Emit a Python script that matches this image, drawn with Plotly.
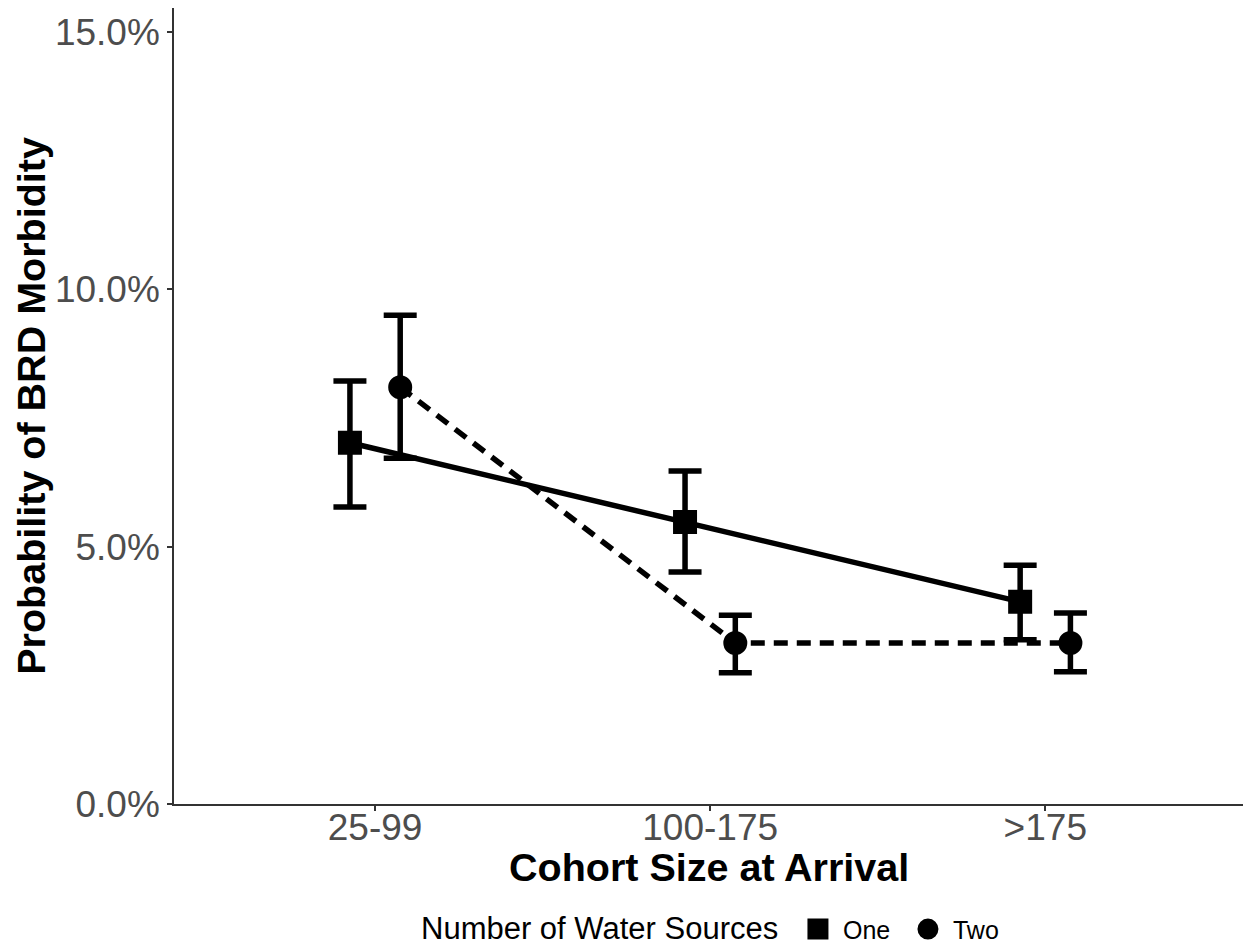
import plotly.graph_objects as go

# ---- data ----
categories = ["25-99", "100-175", ">175"]
groups = ["One", "Two"]

one_est = [7.02, 5.48, 3.93]
one_lo = [5.77, 4.51, 3.19]
one_hi = [8.22, 6.47, 4.64]

two_est = [8.10, 3.13, 3.13]
two_lo = [6.72, 2.55, 2.57]
two_hi = [9.50, 3.67, 3.71]

y_ticks = [0, 5, 10, 15]

legend_title = "Number of Water Sources"
x_title = "Cohort Size at Arrival"
y_title = "Probability of BRD Morbidity"

# ---- styling ----
FONT = "Liberation Sans, Arial, sans-serif"
DODGE = 0.075
LW = 5.5

series = {
    "One": dict(est=one_est, lo=one_lo, hi=one_hi, symbol="square", dash="solid", off=-DODGE),
    "Two": dict(est=two_est, lo=two_lo, hi=two_hi, symbol="circle", dash="14px,9px", off=DODGE),
}

fig = go.Figure()

# lines first
for name in groups:
    s = series[name]
    xs = [i + s["off"] for i in range(len(categories))]
    fig.add_trace(go.Scatter(
        x=xs, y=s["est"], mode="lines",
        line=dict(color="black", width=LW, dash=s["dash"]),
        showlegend=False, hoverinfo="skip",
    ))

# points with error bars
for name in groups:
    s = series[name]
    xs = [i + s["off"] for i in range(len(categories))]
    fig.add_trace(go.Scatter(
        x=xs, y=s["est"], mode="markers", name=name,
        marker=dict(symbol=s["symbol"], size=19, color="black",
                    line=dict(width=5, color="black")),
        error_y=dict(
            type="data", symmetric=False,
            array=[h - e for h, e in zip(s["hi"], s["est"])],
            arrayminus=[e - l for e, l in zip(s["est"], s["lo"])],
            color="black", thickness=LW, width=16.5,
        ),
    ))

fig.update_layout(
    width=1243, height=947,
    margin=dict(l=174, r=0, t=8, b=143, autoexpand=False),
    paper_bgcolor="white", plot_bgcolor="white",
    font=dict(family=FONT, color="black"),
    showlegend=True,
    legend=dict(
        orientation="h", x=0.579, xanchor="left", y=-0.1575, yanchor="middle",
        font=dict(size=25, color="black"),
        itemwidth=40, entrywidth=55,
        bgcolor="rgba(0,0,0,0)",
    ),
    xaxis=dict(
        range=[-0.6, 2.59],
        tickmode="array", tickvals=list(range(len(categories))), ticktext=categories,
        showgrid=False, zeroline=False,
        showline=True, linecolor="#333333", linewidth=1.5,
        ticks="outside", ticklen=5, tickcolor="#333333", tickwidth=1.5,
        tickfont=dict(size=37, color="#4D4D4D"),
        ticklabelstandoff=-15,
    ),
    yaxis=dict(
        range=[0, 15.47],
        tickmode="array", tickvals=y_ticks,
        ticktext=[f"{v:.1f}%" for v in y_ticks],
        showgrid=False, zeroline=False,
        showline=True, linecolor="#333333", linewidth=1.5,
        ticks="outside", ticklen=5, tickcolor="#333333", tickwidth=1.5,
        tickfont=dict(size=37, color="#4D4D4D"),
    ),
    annotations=[
        dict(text=f"<b>{x_title}</b>", xref="paper", yref="paper",
             x=0.5, y=-0.079, xanchor="center", yanchor="middle", showarrow=False,
             font=dict(size=39.5, color="black")),
        dict(text=f"<b>{y_title}</b>", xref="paper", yref="paper",
             x=-0.134, y=0.5, xanchor="center", yanchor="middle", showarrow=False,
             textangle=-90, font=dict(size=39.5, color="black")),
        dict(text=legend_title, xref="paper", yref="paper",
             x=(780 - 174) / 1069, y=-0.1558, xanchor="right", yanchor="middle",
             showarrow=False, font=dict(size=31, color="black")),
    ],
)

fig.write_html("out.html")
